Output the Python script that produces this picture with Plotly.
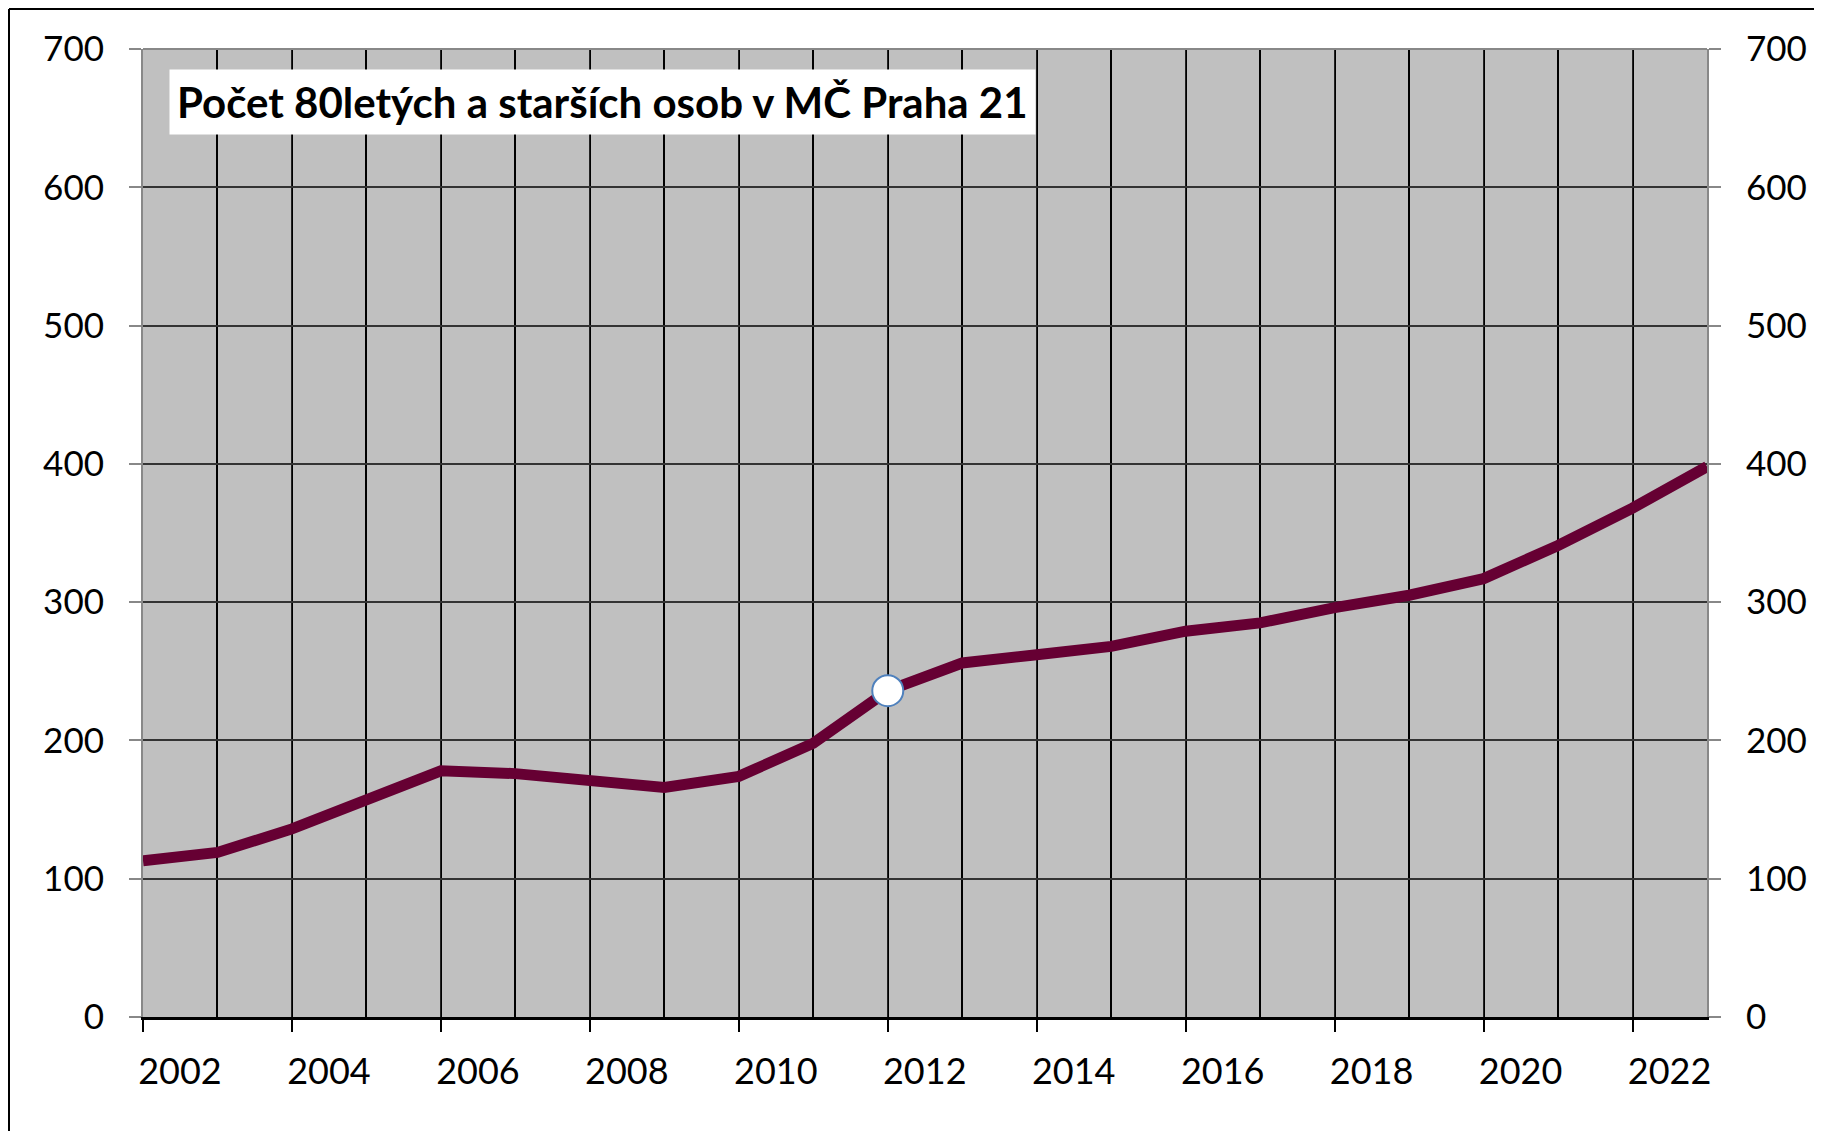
import plotly.graph_objects as go

years = list(range(2002, 2024))
persons_80plus = [113, 119, 136, 158, 178, 176, 170, 166, 174, 198, 236,
                  256, 262, 268, 279, 285, 296, 305, 317, 341, 368, 398]
highlight_index = 10  # 2012
title_text = "Počet 80letých a starších osob v MČ Praha 21"
x_tick_years = list(range(2002, 2023, 2))
y_ticks = list(range(0, 701, 100))

W, H = 1822, 1131
OFF = 8  # page offset of the plot div
L, T = 143 - OFF, 49 - OFF
PW, PH = 1564, 968
R, B = W - L - PW, H - T - PH

def px_x(px):
    return (px - OFF - L) / PW

def px_y(py):
    return (T + PH - (py - OFF)) / PH

FONT = "Lato"

fig = go.Figure()
fig.add_trace(go.Scatter(
    x=years, y=persons_80plus, mode="lines",
    line=dict(color="#660033", width=11),
    hoverinfo="skip", showlegend=False, cliponaxis=False,
))
fig.add_trace(go.Scatter(
    x=[years[highlight_index]], y=[persons_80plus[highlight_index]], mode="markers",
    marker=dict(size=31, color="white", line=dict(color="#4F81BD", width=2)),
    hoverinfo="skip", showlegend=False, cliponaxis=False,
))
fig.add_trace(go.Scatter(
    x=years, y=persons_80plus, mode="lines", yaxis="y2",
    line=dict(color="rgba(0,0,0,0)", width=0),
    hoverinfo="skip", showlegend=False,
))

yaxis_common = dict(
    range=[0, 700], tickvals=y_ticks, ticks="outside", ticklen=12,
    tickwidth=2, tickcolor="#888888", showline=True, linecolor="#888888",
    linewidth=2, tickfont=dict(family=FONT, size=35, color="black"),
    ticklabelstandoff=18, zeroline=False,
)

fig.update_layout(
    width=W, height=H,
    margin=dict(l=L, r=R, t=T, b=B),
    paper_bgcolor="white", plot_bgcolor="#C0C0C0",
    xaxis=dict(
        range=[2002, 2023], tickvals=x_tick_years, ticks="outside", ticklen=12,
        tickwidth=2, tickcolor="black", showline=True, linecolor="black",
        linewidth=3, showgrid=True, gridcolor="#222222", gridwidth=1.3,
        tickfont=dict(family=FONT, size=36, color="black"),
        ticklabelshift=37, ticklabelstandoff=9, zeroline=False,
        minor=dict(dtick=1, tick0=2002, showgrid=True, gridcolor="black",
                   gridwidth=2, ticks=""),
    ),
    yaxis=dict(**yaxis_common, side="left", showgrid=True,
               gridcolor="#333333", gridwidth=1.6),
    yaxis2=dict(**yaxis_common, side="right", overlaying="y", showgrid=False),
    shapes=[
        dict(type="line", xref="paper", yref="paper", x0=0, x1=1, y0=1, y1=1,
             line=dict(color="#888888", width=2)),
        dict(type="line", xref="paper", yref="paper",
             x0=px_x(9), x1=px_x(W + 20), y0=px_y(9), y1=px_y(9),
             line=dict(color="black", width=2)),
        dict(type="line", xref="paper", yref="paper",
             x0=px_x(9), x1=px_x(9), y0=px_y(9), y1=px_y(H + 20),
             line=dict(color="black", width=2)),
    ],
    annotations=[dict(
        text="<b>" + title_text + "</b>", xref="paper", yref="paper",
        x=px_x(169), y=px_y(69), xanchor="left", yanchor="top",
        showarrow=False, bgcolor="white", borderpad=7,
        font=dict(family=FONT, size=42, color="black"),
    )],
)

fig.write_html("out.html")
